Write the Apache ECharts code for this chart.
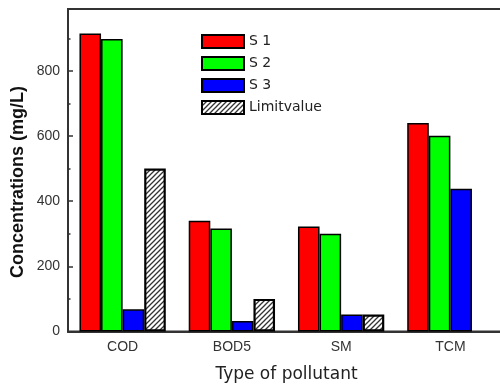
<!DOCTYPE html>
<html>
<head>
<meta charset="utf-8">
<script src="https://cdn.jsdelivr.net/npm/echarts@6/dist/echarts.min.js"></script>
<style>
  html, body { margin: 0; padding: 0; background: #fff; }
  #chart { width: 500px; height: 390px; }
</style>
</head>
<body>
<div id="chart"></div>
<script>
// Pollutant concentrations per sample (mg/L)
const categories = ['COD', 'BOD5', 'SM', 'TCM'];
const s1Values = [915, 340, 322, 640];
const s2Values = [898, 316, 300, 601];
const s3Values = [68, 32, 52, 438];
const limitValues = [500, 100, 52, null];
const seriesNames = ['S 1', 'S 2', 'S 3', 'Limitvalue'];

// Diagonal hatch tile for the limit bars
function hatchPattern() {
  const c = document.createElement('canvas');
  c.width = 5; c.height = 5;
  const ctx = c.getContext('2d');
  ctx.fillStyle = '#fff';
  ctx.fillRect(0, 0, 5, 5);
  ctx.strokeStyle = '#333';
  ctx.lineWidth = 1.3;
  ctx.beginPath();
  ctx.moveTo(-1, 6); ctx.lineTo(6, -1);
  ctx.moveTo(-1, 1); ctx.lineTo(1, -1);
  ctx.moveTo(4, 6); ctx.lineTo(6, 4);
  ctx.stroke();
  return { image: c, repeat: 'repeat' };
}

const chart = echarts.init(document.getElementById('chart'));
const font = 'Liberation Sans, Arial, sans-serif';

function barSeries(name, data, color, bw) {
  return {
    name: name,
    type: 'bar',
    data: data,
    barGap: '0%',
    barCategoryGap: '21%',
    xAxisIndex: 0,
    yAxisIndex: 0,
    itemStyle: { color: color, borderColor: '#000', borderWidth: bw },
    emphasis: { disabled: true }
  };
}

chart.setOption({
  animation: false,
  backgroundColor: '#fff',
  grid: {
    left: 68, top: 9, width: 437, bottom: 58.5,
    outerBoundsMode: 'none',
    containLabel: false,
    show: true, borderColor: '#333', borderWidth: 2, backgroundColor: 'transparent'
  },
  legend: {
    orient: 'vertical',
    left: 201, top: 34,
    padding: 0,
    itemWidth: 42, itemHeight: 13, itemGap: 7,
    icon: 'rect',
    itemStyle: { borderColor: '#000', borderWidth: 2 },
    textStyle: { fontFamily: 'DejaVu Sans, sans-serif', fontSize: 14, color: '#222' },
    data: seriesNames
  },
  xAxis: [
    {
      type: 'category',
      data: categories,
      name: 'Type of pollutant',
      nameLocation: 'middle',
      nameGap: 35,
      nameTextStyle: { fontFamily: 'DejaVu Sans, sans-serif', fontSize: 17, color: '#222' },
      axisLine: { lineStyle: { color: '#333', width: 2 } },
      axisTick: { alignWithLabel: true, length: 6, lineStyle: { color: '#333', width: 1.5 } },
      axisLabel: { margin: 9, fontFamily: font, fontSize: 14, color: '#333' }
    },
    {
      type: 'category',
      data: categories,
      position: 'bottom',
      axisLine: { show: false },
      axisTick: { length: 3, lineStyle: { color: '#333', width: 1.5 } },
      axisLabel: { show: false }
    }
  ],
  yAxis: [
    {
      type: 'value',
      min: 0, max: 990, interval: 200,
      axisLine: { show: true, lineStyle: { color: '#333', width: 2 } },
      axisTick: { show: true, inside: true, length: 5, lineStyle: { color: '#333', width: 1.5 } },
      axisLabel: { margin: 8, fontFamily: font, fontSize: 14, color: '#333', showMaxLabel: false },
      splitLine: { show: false }
    },
    {
      type: 'value',
      min: 0, max: 990, interval: 100,
      position: 'left',
      axisLine: { show: false },
      axisTick: { show: true, inside: true, length: 2.5, lineStyle: { color: '#333', width: 1.5 } },
      axisLabel: { show: false },
      splitLine: { show: false }
    }
  ],
  graphic: [{
    type: 'text',
    x: 18, y: 182,
    rotation: Math.PI / 2,
    style: {
      text: 'Concentrations (mg/L)',
      font: 'bold 18px Liberation Sans, Arial, sans-serif',
      fill: '#111',
      textAlign: 'center',
      textVerticalAlign: 'middle'
    }
  }],
  series: [
    barSeries(seriesNames[0], s1Values, '#ff0000', 1.5),
    barSeries(seriesNames[1], s2Values, '#00ff00', 1.5),
    barSeries(seriesNames[2], s3Values, '#0000ff', 1.5),
    barSeries(seriesNames[3], limitValues, hatchPattern(), 2.2)
  ]
});
</script>
</body>
</html>
